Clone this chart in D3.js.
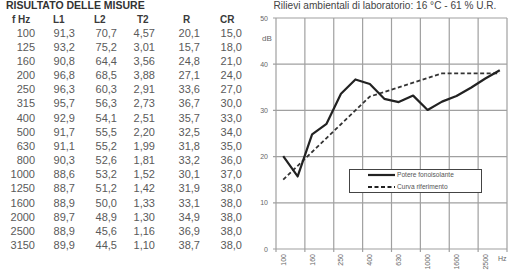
<!DOCTYPE html>
<html><head><meta charset="utf-8">
<script src="https://cdn.jsdelivr.net/npm/d3@7"></script>
<style>html,body{margin:0;padding:0;background:#fff;}svg{display:block;font-family:"Liberation Sans",Arial,sans-serif;}</style>
</head><body><svg id="c" width="520" height="277"></svg>
<script>
const freqs = [100,125,160,200,250,315,400,500,630,800,1000,1250,1600,2000,2500,3150];
const L1 = [91.3,93.2,90.8,96.8,96.3,95.7,92.9,91.7,91.1,90.3,88.6,88.7,88.9,89.7,88.9,89.9];
const L2 = [70.7,75.2,64.4,68.5,60.3,56.3,54.1,55.5,55.2,52.6,53.2,51.2,50.0,48.9,45.6,44.5];
const T2 = [4.57,3.01,3.56,3.88,2.91,2.73,2.51,2.20,1.99,1.81,1.52,1.42,1.33,1.30,1.16,1.10];
const R  = [20.1,15.7,24.8,27.1,33.6,36.7,35.7,32.5,31.8,33.2,30.1,31.9,33.1,34.9,36.9,38.7];
const CR = [15.0,18.0,21.0,24.0,27.0,30.0,33.0,34.0,35.0,36.0,37.0,38.0,38.0,38.0,38.0,38.0];
const headers = ["f Hz","L1","L2","T2","R","CR"];
const yTicks = [0,10,20,30,40,50];
const xLabelFreqs = [100,160,250,400,630,1000,1600,2500];
const legendNames = ["Potere fonoisolante","Curva riferimento"];
const tableTitle = "RISULTATO DELLE MISURE";
const chartTitle = "Rilievi ambientali di laboratorio: 16 °C - 61 % U.R.";

(function(){
const svg = d3.select("#c");
const comma = (f) => (v) => d3.format(f)(v).replace(".", ",");

// ---- Table ----
svg.append("text").attr("x",6).attr("y",9).attr("font-size",10.5).attr("font-weight","bold")
  .attr("fill","#333").text(tableTitle);
const colRight = [35,75,117,155,200,242];
const headX = [12,53,94,137,183,220];
const rowY = d3.scaleLinear().domain([-1,15]).range([22.5,249]);
svg.append("g").selectAll("text").data(headers).join("text")
  .attr("x",(d,i)=>headX[i]).attr("y",rowY(-1)).attr("font-size",10).attr("font-weight","bold")
  .attr("fill","#3a3a3a").text(d=>d);
const cols = [freqs.map(String), L1.map(comma(".1f")), L2.map(comma(".1f")), T2.map(comma(".2f")), R.map(comma(".1f")), CR.map(comma(".1f"))];
cols.forEach((col,ci)=>{
  svg.append("g").selectAll("text").data(col).join("text")
    .attr("x",colRight[ci]).attr("y",(d,i)=>rowY(i)).attr("text-anchor","end")
    .attr("font-size",11).attr("fill","#5a5a5a").text(d=>d);
});

// ---- Chart ----
const pL=276, pR=507, pT=18, pB=249;
const x = d3.scaleBand().domain(freqs).range([pL,pR]).padding(0);
const y = d3.scaleLinear().domain([0,50]).range([pB,pT]);
const cx = f => x(f)+x.bandwidth()/2;

svg.append("text").attr("x",385).attr("y",9).attr("text-anchor","middle").attr("font-size",10.1)
  .attr("fill","#444").text(chartTitle);

const grid = svg.append("g").attr("stroke","#a0a0a0").attr("stroke-width",1.2);
grid.selectAll("line.h").data(yTicks).join("line").attr("class","h")
  .attr("x1",pL-3).attr("x2",pR).attr("y1",d=>y(d)).attr("y2",d=>y(d));
const vEdges = freqs.filter((d,i)=>i%2===0).map(f=>x(f)).concat([pR]);
grid.selectAll("line.v").data(vEdges).join("line").attr("class","v")
  .attr("x1",d=>d).attr("x2",d=>d).attr("y1",pT).attr("y2",pB+3);

svg.append("g").selectAll("text").data(yTicks).join("text")
  .attr("x",268).attr("y",d=>y(d)+2.5).attr("text-anchor","end").attr("font-size",7)
  .attr("fill","#666").text(d=>d);
svg.append("text").attr("x",262).attr("y",41).attr("font-size",8).attr("fill","#666").text("dB");

svg.append("g").selectAll("text").data(xLabelFreqs).join("text")
  .attr("transform",d=>`translate(${cx(d)+2.5},254) rotate(-90)`)
  .attr("text-anchor","end").attr("font-size",7).attr("fill","#666").text(d=>d);
svg.append("text").attr("x",498).attr("y",261).attr("font-size",7).attr("fill","#666").text("Hz");

const line = d3.line().x((d,i)=>cx(freqs[i])).y(d=>y(d));
svg.append("path").datum(CR).attr("d",line).attr("fill","none").attr("stroke","#333")
  .attr("stroke-width",1.8).attr("stroke-dasharray","4,2.5");
svg.append("path").datum(R).attr("d",line).attr("fill","none").attr("stroke","#222")
  .attr("stroke-width",2.2).attr("stroke-linejoin","round");

// legend
const lg = svg.append("g");
lg.append("rect").attr("x",349.5).attr("y",169.5).attr("width",132).attr("height",23)
  .attr("fill","#fff").attr("stroke","#444").attr("stroke-width",1);
legendNames.forEach((n,i)=>{
  const ly = 175 + i*12;
  lg.append("line").attr("x1",368).attr("x2",395).attr("y1",ly).attr("y2",ly)
    .attr("stroke","#222").attr("stroke-width",i?1.8:2.2).attr("stroke-dasharray",i?"4,2.5":null);
  lg.append("text").attr("x",397).attr("y",ly+2.3).attr("font-size",6.6).attr("fill","#555").text(n);
});
})();
</script></body></html>
